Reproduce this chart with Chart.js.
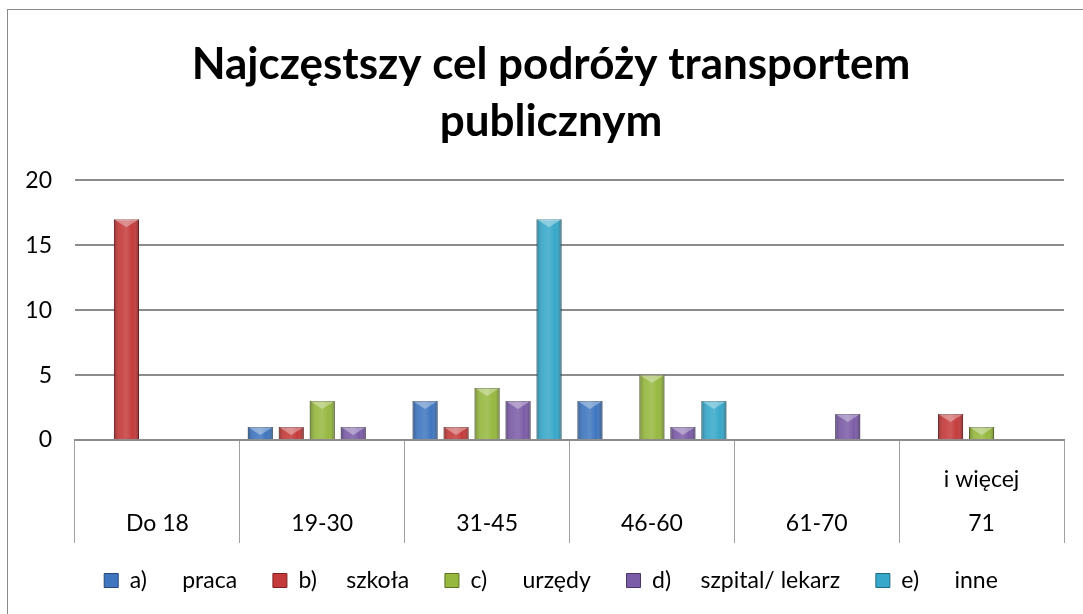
<!DOCTYPE html>
<html>
<head>
<meta charset="utf-8">
<script src="https://cdn.jsdelivr.net/npm/chart.js@4/dist/chart.umd.min.js"></script>
<style>
  html, body { margin: 0; padding: 0; background: #fff; overflow: hidden; }
  #frame { position: absolute; left: 7px; top: 9px; width: 1200px; height: 700px; border: 1px solid #8a8a8a; border-width: 1px 0 0 1px; }
  #wrap { position: absolute; left: 0; top: 0; width: 1083px; height: 614px; }
</style>
</head>
<body>
<div id="frame"></div>
<div id="wrap"><canvas id="mybargraph" width="1083" height="614"></canvas></div>
<script>
// age groups (the last one is written on two lines in the original)
const ageGroups = [['', 'Do 18'], ['', '19-30'], ['', '31-45'], ['', '46-60'], ['', '61-70'], ['i więcej', '71']]
const seriesNames = ['a)      praca  ', 'b)     szkoła  ', 'c)      urzędy  ', 'd)     szpital/ lekarz  ', 'e)      inne']
const praca = [0, 1, 3, 3, 0, 0]
const szkola = [17, 1, 1, 0, 0, 2]
const urzedy = [0, 3, 4, 5, 0, 1]
const szpital = [0, 1, 3, 1, 2, 0]
const inne = [0, 0, 17, 3, 0, 0]
const yTicks = [0, 5, 10, 15, 20]

const colors = ['#3f76bf', '#c53b3b', '#96b83f', '#7b5ca7', '#37a8c9']
const edges = ['#26497a', '#7d2222', '#5c7222', '#4a3568', '#1f6a80']

// bevel look on top of the plain bars
const bevel = {
    id: 'bevel',
    afterDatasetsDraw(chart) {
        const ctx = chart.ctx
        chart.data.datasets.forEach(function(ds, i) {
            chart.getDatasetMeta(i).data.forEach(function(bar) {
                const w = bar.width
                const left = bar.x - w / 2
                const top = bar.y
                const h = bar.base - bar.y
                if (h <= 0) return
                ctx.save()
                const g = ctx.createLinearGradient(left, 0, left + w, 0)
                g.addColorStop(0, 'rgba(0,0,0,0.25)')
                g.addColorStop(0.25, 'rgba(255,255,255,0.08)')
                g.addColorStop(0.5, 'rgba(255,255,255,0.15)')
                g.addColorStop(0.75, 'rgba(255,255,255,0.0)')
                g.addColorStop(1, 'rgba(0,0,0,0.3)')
                ctx.fillStyle = g
                ctx.fillRect(left, top, w, h)
                const b = Math.min(8, h)
                ctx.fillStyle = 'rgba(255,255,255,0.35)'
                ctx.beginPath()
                ctx.moveTo(left, top)
                ctx.lineTo(left + w, top)
                ctx.lineTo(left + w / 2, top + b)
                ctx.closePath()
                ctx.fill()
                ctx.restore()
            })
        })
    }
}

const allSeries = [praca, szkola, urzedy, szpital, inne]

new Chart(document.getElementById('mybargraph'), {
    type: 'bar',
    data: {
        labels: ageGroups,
        datasets: allSeries.map(function(values, i) {
            return {
                label: seriesNames[i],
                data: values,
                backgroundColor: colors[i],
                borderColor: edges[i],
                borderWidth: 1,
                borderSkipped: 'bottom',
                categoryPercentage: 0.94,
                barPercentage: 0.81
            }
        })
    },
    options: {
        responsive: false,
        animation: false,
        // title and legend are centred a bit right of the canvas middle
        layout: { padding: { left: 0, right: -19, top: 0, bottom: 12 } },
        plugins: {
            title: {
                display: true,
                text: ['Najczęstszy cel podróży transportem', 'publicznym'],
                color: '#000',
                font: { family: 'Lato', size: 44, weight: 'bold', lineHeight: 1.3 },
                padding: { top: 36, bottom: 30 }
            },
            legend: {
                position: 'bottom',
                labels: {
                    color: '#000',
                    font: { family: 'Lato', size: 23 },
                    boxWidth: 14,
                    boxHeight: 14,
                    padding: 24
                }
            },
            tooltip: { enabled: false }
        },
        scales: {
            x: {
                afterFit: function(scale) { scale.height = 105 },
                grid: {
                    offset: true,
                    drawOnChartArea: false,
                    drawTicks: true,
                    tickLength: 103,
                    color: '#a0a0a0',
                    lineWidth: 1
                },
                border: { display: true, color: '#8c8c8c', width: 2 },
                ticks: {
                    color: '#000',
                    font: { family: 'Lato', size: 23, lineHeight: 1.9 },
                    padding: -85,
                    maxRotation: 0,
                    autoSkip: false
                }
            },
            y: {
                min: 0,
                max: 20,
                afterFit: function(scale) { scale.width = 75 },
                afterBuildTicks: function(scale) { scale.ticks = yTicks.map(function(v) { return { value: v } }) },
                grid: { color: '#8c8c8c', lineWidth: 2, drawTicks: false },
                border: { display: false },
                ticks: {
                    color: '#000',
                    font: { family: 'Lato', size: 23 },
                    padding: 23
                }
            },
            // empty right margin
            yRight: {
                position: 'right',
                min: 0,
                max: 20,
                afterFit: function(scale) { scale.width = 38 },
                grid: { drawOnChartArea: false, drawTicks: false },
                border: { display: false },
                ticks: { display: false }
            }
        }
    },
    plugins: [bevel]
})
</script>
</body>
</html>
